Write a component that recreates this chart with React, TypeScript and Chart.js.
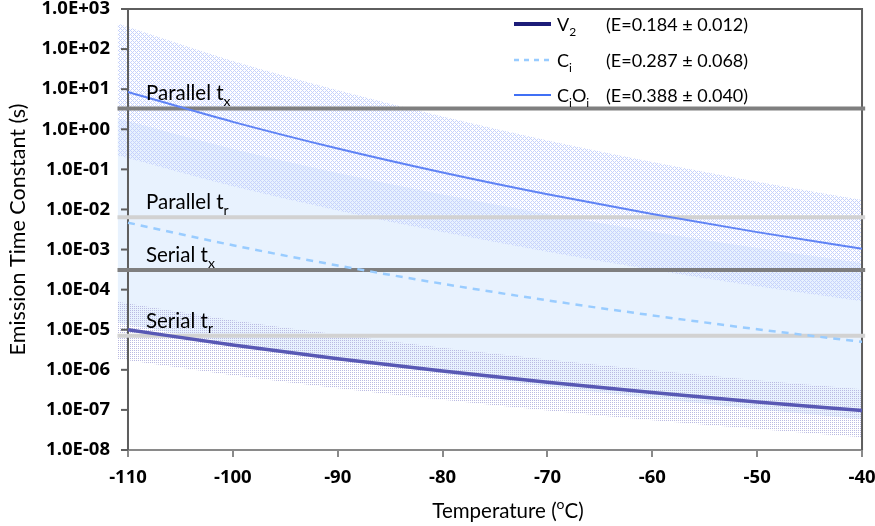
import React, { useEffect, useRef } from 'react';
import { Chart, registerables } from 'chart.js';

Chart.register(...registerables);

// ---------------- data ----------------
const temps = [-110, -100, -90, -80, -70, -60, -50, -40];
const bandTemps = [-111, -100, -90, -80, -70, -60, -50, -40];

const v2Tau = [1.0e-5, 4.17e-6, 1.9e-6, 9.33e-7, 4.9e-7, 2.72e-7, 1.58e-7, 9.62e-8];
const ciTau = [4.68e-3, 1.28e-3, 3.99e-4, 1.4e-4, 5.41e-5, 2.28e-5, 1.03e-5, 4.99e-6];
const cioiTau = [8.51, 1.53, 0.331, 0.0834, 0.0239, 0.00769, 0.00272, 0.00105];

const v2Upper = [5.01e-5, 1.73e-5, 7.57e-6, 3.57e-6, 1.81e-6, 9.72e-7, 5.51e-7, 3.26e-7];
const v2Lower = [1.88e-6, 7.31e-7, 3.48e-7, 1.78e-7, 9.66e-8, 5.55e-8, 3.33e-8, 2.07e-8];
const ciUpper = [1.88, 0.322, 0.0815, 0.0236, 7.69e-3, 2.77e-3, 1.09e-3, 4.63e-4];
const ciLower = [1.5e-5, 4.65e-6, 1.86e-6, 8.17e-7, 3.85e-7, 1.95e-7, 1.04e-7, 5.86e-8];
const cioiUpper = [434, 50.2, 9.38, 2.07, 0.527, 0.152, 0.049, 0.0173];
const cioiLower = [0.224, 0.0378, 9.46e-3, 2.72e-3, 8.77e-4, 3.13e-4, 1.22e-4, 5.16e-5];

const levelValues = [3.3, 6.4e-3, 3.1e-4, 7.1e-6];
const levelNames = ['Parallel t', 'Parallel t', 'Serial t', 'Serial t'];
const levelSubs = ['x', 'r', 'x', 'r'];
const levelSpan = [-111, -39.7];

const xTicks = [-110, -100, -90, -80, -70, -60, -50, -40];
const yTickValues = [1e-8, 1e-7, 1e-6, 1e-5, 1e-4, 1e-3, 1e-2, 1e-1, 1e0, 1e1, 1e2, 1e3];
const yTickLabels = ['1.0E-08', '1.0E-07', '1.0E-06', '1.0E-05', '1.0E-04', '1.0E-03', '1.0E-02', '1.0E-01', '1.0E+00', '1.0E+01', '1.0E+02', '1.0E+03'];

const legendNames = [[['V', ''], ['2', 'sub']], [['C', ''], ['i', 'sub']], [['C', ''], ['i', 'sub'], ['O', ''], ['i', 'sub']]];
const legendEnergies = ['(E=0.184 \u00b1 0.012)', '(E=0.287 \u00b1 0.068)', '(E=0.388 \u00b1 0.040)'];

const FONT = 'Lato, "Open Sans", sans-serif';
const BOLD_FONT = '"Open Sans", Lato, sans-serif';

const pts = (xs: number[], ys: number[]) => xs.map((x, i) => ({ x, y: ys[i] }));

function rich(ctx: CanvasRenderingContext2D, parts: string[][], x: number, baseline: number, size: number) {
  let cx = x;
  for (const [t, kind] of parts) {
    if (kind === 'sub') {
      ctx.font = `${Math.round(size * 0.68)}px ${FONT}`;
      ctx.fillText(t, cx, baseline + size * 0.28);
    } else if (kind === 'sup') {
      ctx.font = `${Math.round(size * 0.68)}px ${FONT}`;
      ctx.fillText(t, cx, baseline - size * 0.42);
    } else {
      ctx.font = `${size}px ${FONT}`;
      ctx.fillText(t, cx, baseline);
    }
    cx += ctx.measureText(t).width;
  }
  return cx;
}

function measureRich(ctx: CanvasRenderingContext2D, parts: string[][], size: number) {
  let w = 0;
  for (const [t, kind] of parts) {
    ctx.font = kind ? `${Math.round(size * 0.68)}px ${FONT}` : `${size}px ${FONT}`;
    w += ctx.measureText(t).width;
  }
  return w;
}

export default function App() {
  const ref = useRef<HTMLCanvasElement>(null);

  useEffect(() => {
    const canvas = ref.current!;
    const base = canvas.getContext('2d')!;
    const mkPattern = (size: number, color: string, on: (x: number, y: number) => boolean) => {
      const c = document.createElement('canvas');
      c.width = size;
      c.height = size;
      const g = c.getContext('2d')!;
      g.fillStyle = color;
      for (let y = 0; y < size; y++) for (let x = 0; x < size; x++) if (on(x, y)) g.fillRect(x, y, 1, 1);
      return base.createPattern(c, 'repeat')!;
    };
    const crossHatch = mkPattern(4, 'rgb(198,210,252)', (x, y) => (x + y) % 4 === 0 || (x - y + 4) % 4 === 0);
    const dots = mkPattern(2, 'rgb(186,186,226)', (x, y) => x === 0 && y === 0);

    const line = (data: any, color: string, width: number, dash: number[] = []) => ({
      data,
      borderColor: color,
      borderWidth: width,
      borderDash: dash,
      pointRadius: 0,
      fill: false,
      cubicInterpolationMode: 'monotone',
      clip: false,
    });
    const edge = (data: any, fill: any, bg: any) => ({
      data,
      borderWidth: 0,
      borderColor: 'rgba(0,0,0,0)',
      backgroundColor: bg,
      pointRadius: 0,
      fill,
      cubicInterpolationMode: 'monotone',
    });

    const deco = {
      id: 'deco',
      beforeDatasetsDraw(chart: any) {
        const { ctx } = chart;
        const xs = chart.scales.x;
        const ys = chart.scales.y;
        const L = xs.getPixelForValue(xTicks[0]);
        const R = xs.getPixelForValue(xTicks[xTicks.length - 1]);
        const T = ys.getPixelForValue(yTickValues[yTickValues.length - 1]);
        const B = ys.getPixelForValue(yTickValues[0]);
        ctx.save();
        ctx.lineWidth = 2;
        ctx.strokeStyle = '#8a8a8a';
        ctx.beginPath();
        ctx.moveTo(L - 7, B);
        ctx.lineTo(R + 1, B);
        ctx.stroke();
        ctx.strokeStyle = '#5e5e5e';
        ctx.beginPath();
        ctx.moveTo(L, B);
        ctx.lineTo(L, T);
        ctx.lineTo(R, T);
        ctx.lineTo(R, B);
        ctx.stroke();
        for (const v of yTickValues) {
          const y = ys.getPixelForValue(v);
          ctx.beginPath();
          ctx.moveTo(L - 7, y);
          ctx.lineTo(L, y);
          ctx.stroke();
        }
        ctx.restore();
      },
      afterDatasetsDraw(chart: any) {
        const { ctx } = chart;
        const xs = chart.scales.x;
        const ys = chart.scales.y;
        ctx.save();
        ctx.fillStyle = '#000';
        ctx.textAlign = 'left';
        ctx.textBaseline = 'alphabetic';
        // level labels
        const lx = xs.getPixelForValue(xTicks[0]) + 18;
        levelValues.forEach((v, i) => {
          const y = ys.getPixelForValue(v);
          rich(ctx, [[levelNames[i], ''], [levelSubs[i], 'sub']], lx, y - 8, 20.5);
        });
        // legend
        const rowsY = [24, 60, 95];
        const styles = [
          { c: '#1c1c78', w: 4, d: [] as number[] },
          { c: '#99ccff', w: 2.5, d: [5, 5] },
          { c: '#4070f5', w: 2, d: [] as number[] },
        ];
        rowsY.forEach((y, i) => {
          const s = styles[i];
          ctx.save();
          ctx.strokeStyle = s.c;
          ctx.lineWidth = s.w;
          ctx.setLineDash(s.d);
          ctx.beginPath();
          ctx.moveTo(514, y);
          ctx.lineTo(551, y);
          ctx.stroke();
          ctx.restore();
          rich(ctx, legendNames[i] as any, 557, y + 7, 18);
          ctx.font = `18px ${FONT}`;
          ctx.fillText(legendEnergies[i], 606, y + 7);
        });
        // x-axis title
        const tparts = [['Temperature (', ''], ['o', 'sup'], ['C)', '']];
        const tw = measureRich(ctx, tparts, 20.5);
        rich(ctx, tparts, 508 - tw / 2, 518, 20.5);
        ctx.restore();
      },
    };

    const chart = new Chart(canvas, {
      type: 'line',
      data: {
        datasets: [
          line(pts(temps, v2Tau), '#5858b4', 3.5),
          line(pts(temps, ciTau), '#99ccff', 2.5, [7, 6]),
          line(pts(temps, cioiTau), '#5f83f5', 2),
          line(pts(levelSpan, levelValues.map(() => levelValues[0])), '#7f7f7f', 4),
          line(pts(levelSpan, levelValues.map(() => levelValues[1])), '#d2d2d2', 4),
          line(pts(levelSpan, levelValues.map(() => levelValues[2])), '#7f7f7f', 4),
          line(pts(levelSpan, levelValues.map(() => levelValues[3])), '#d2d2d2', 4),
          edge(pts(bandTemps, cioiUpper), '+1', crossHatch),
          edge(pts(bandTemps, cioiLower), false, 'rgba(0,0,0,0)'),
          edge(pts(bandTemps, v2Upper), '+1', dots),
          edge(pts(bandTemps, v2Lower), false, 'rgba(0,0,0,0)'),
          edge(pts(bandTemps, ciUpper), '+1', 'rgb(232,242,254)'),
          edge(pts(bandTemps, ciLower), false, 'rgba(0,0,0,0)'),
        ] as any,
      },
      options: {
        responsive: false,
        animation: false,
        devicePixelRatio: 1,
        layout: { padding: { left: 0, top: 9, right: 9.83, bottom: 0 } },
        plugins: {
          legend: { display: false },
          tooltip: { enabled: false },
          filler: { drawTime: 'beforeDatasetsDraw', propagate: false },
        } as any,
        scales: {
          x: {
            type: 'linear',
            min: levelSpan[0],
            max: levelSpan[1],
            afterBuildTicks: (s: any) => {
              s.ticks = xTicks.map((v) => ({ value: v }));
            },
            afterFit: (s: any) => {
              s.height = 76;
              s.paddingLeft = 0;
              s.paddingRight = 0;
            },
            grid: { display: true, drawOnChartArea: false, drawTicks: true, tickLength: 7, color: '#8a8a8a', lineWidth: 2 },
            border: { display: false },
            ticks: {
              padding: 10,
              autoSkip: false,
              maxRotation: 0,
              color: '#000',
              font: { family: BOLD_FONT, size: 18.5, weight: 'bold' },
              callback: (v: any) => String(v),
            },
          },
          y: {
            type: 'logarithmic',
            min: yTickValues[0],
            max: yTickValues[yTickValues.length - 1],
            afterBuildTicks: (s: any) => {
              s.ticks = yTickValues.map((v) => ({ value: v }));
            },
            afterFit: (s: any) => {
              s.width = 117.5;
              s.paddingTop = 0;
              s.paddingBottom = 0;
            },
            grid: { display: false, drawTicks: false },
            border: { display: false },
            ticks: {
              padding: 7.5,
              autoSkip: false,
              color: '#000',
              font: { family: BOLD_FONT, size: 18.5, weight: 'bold' },
              callback: (_v: any, i: number) => yTickLabels[i],
            },
            title: {
              display: true,
              text: 'Emission Time Constant (s)',
              color: '#000',
              font: { family: FONT, size: 21.5 },
              padding: { top: 5, bottom: 0 },
            },
          },
        } as any,
      },
      plugins: [deco],
    });
    return () => chart.destroy();
  }, []);

  return (
    <div style={{ position: 'fixed', left: 0, top: 0, width: 875, height: 526, background: '#fff' }}>
      <canvas ref={ref} width={875} height={526} style={{ width: 875, height: 526, display: 'block' }} />
    </div>
  );
}
